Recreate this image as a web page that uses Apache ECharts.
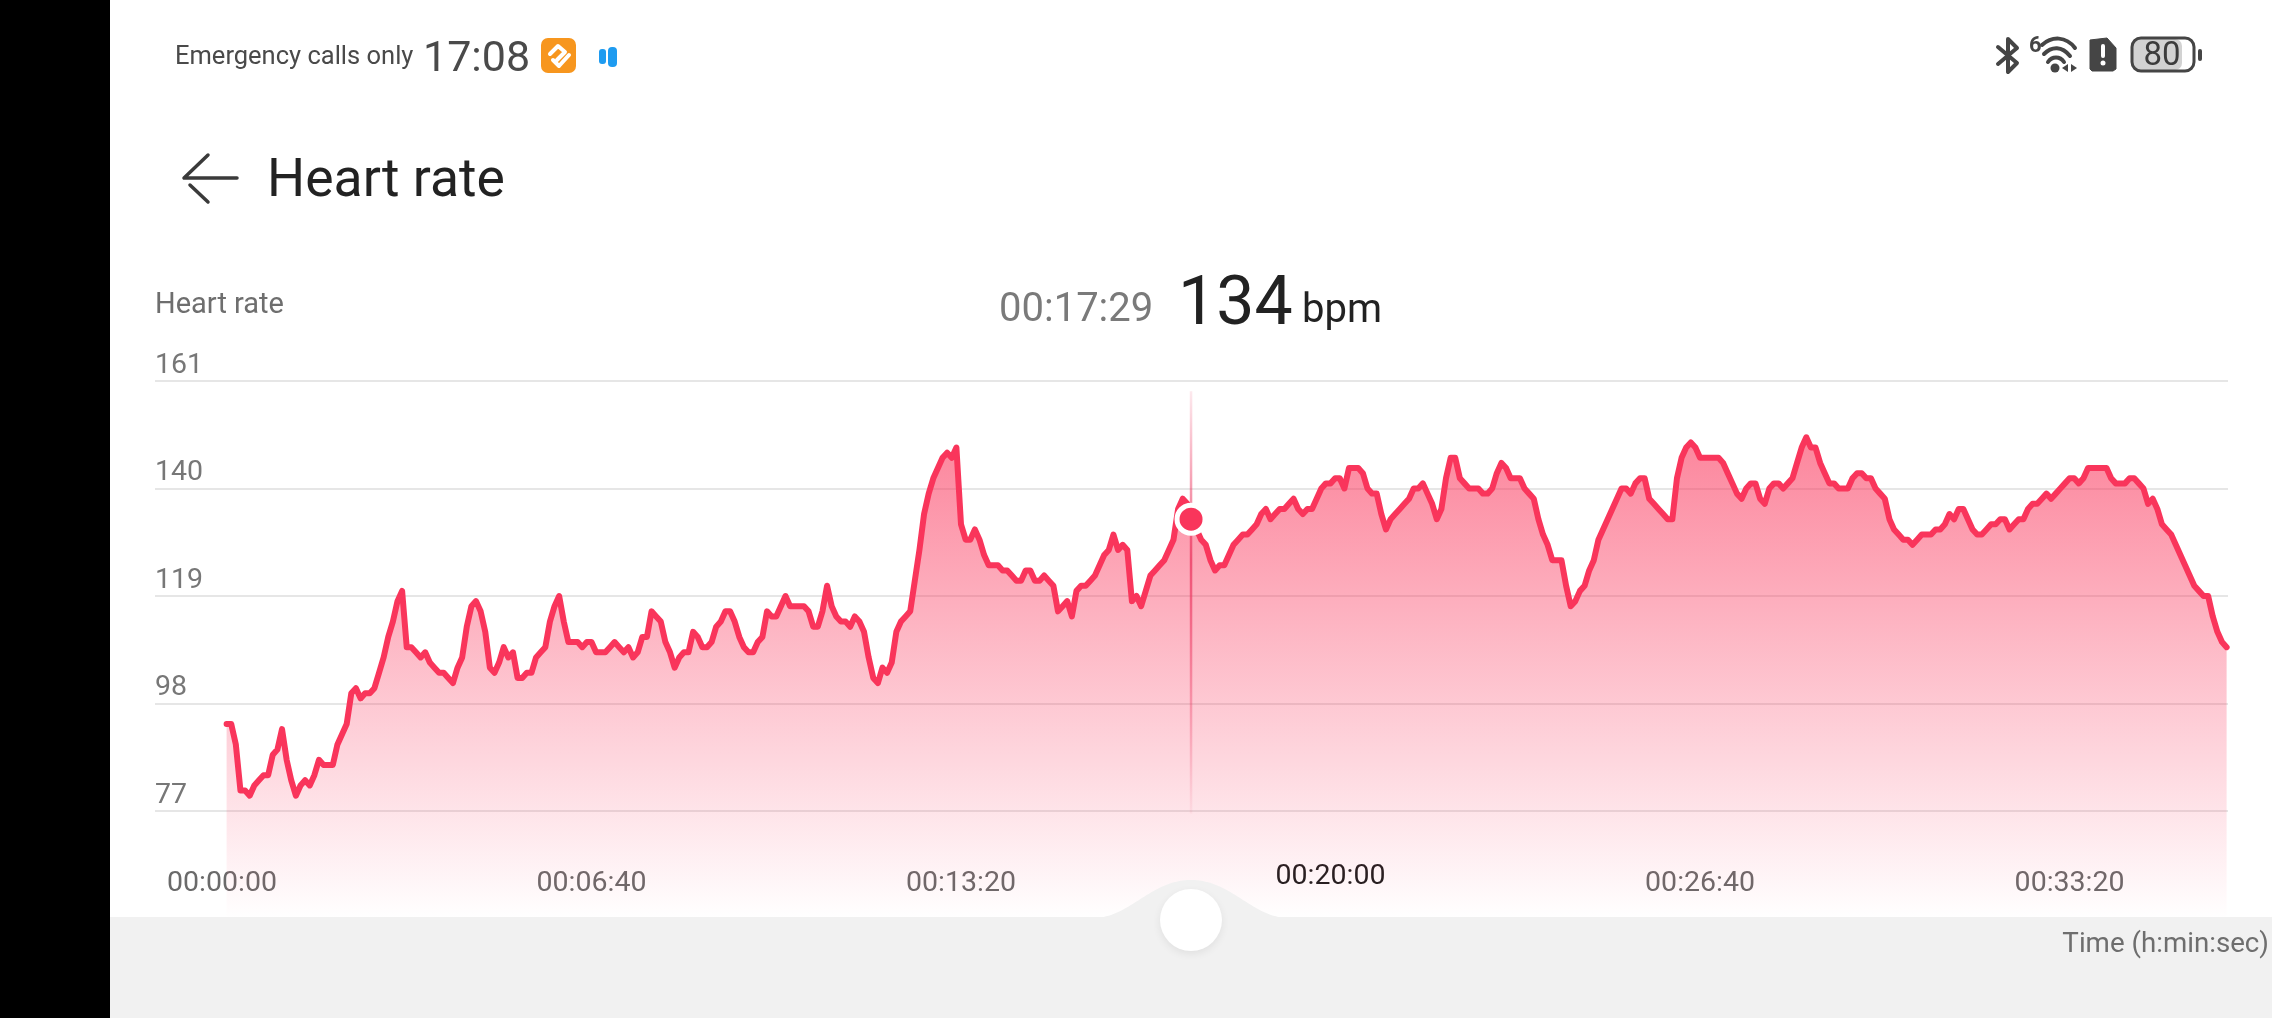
<!DOCTYPE html>
<html>
<head>
<meta charset="utf-8">
<style>html,body{margin:0;padding:0;background:#fff;overflow:hidden}#c{width:2272px;height:1018px}</style>
<script src="https://cdn.jsdelivr.net/npm/echarts@6/dist/echarts.min.js"></script>
</head>
<body>
<div id="c"></div>
<script>
// One sample every 5 seconds, first sample at 00:00:05
const firstSampleSecond = 5;
const sampleStepSeconds = 5;
const heartRateBpm = [
94,94,90,81,81,80,82,83,84,84,
88,89,93,87,83,80,82,83,82,84,
87,86,86,86,90,92,94,100,101,99,
100,100,101,104,107,111,114,118,120,109,
109,108,107,108,106,105,104,104,103,102,
105,107,113,117,118,116,112,105,104,106,
109,107,108,103,103,104,104,107,108,109,
114,117,119,114,110,110,110,109,110,110,
108,108,108,109,110,109,108,109,107,108,
111,111,116,115,114,110,108,105,107,108,
108,112,111,109,109,110,113,114,116,116,
114,111,109,108,108,110,
111,116,115,115,117,119,117,117,117,117,
116,113,113,116,121,117,115,114,114,113,
115,114,112,107,103,102,105,104,106,112,
114,115,116,122,128,135,139,142,144,146,
147,146,148,133,130,130,132,130,127,125,
125,125,124,124,123,122,122,124,124,122,
122,123,122,121,116,117,118,115,120,121,
121,122,123,125,127,128,131,128,129,128,
118,119,117,120,123,124,125,126,128,130,
136,138,137,134,132,130,129,126,124,125,
125,127,129,130,131,131,132,133,135,136,
134,135,136,136,137,138,136,
135,136,136,138,140,141,141,142,142,140,
144,144,144,143,140,139,139,135,132,134,
135,136,137,138,140,140,141,139,137,134,
136,142,146,146,142,141,140,140,140,139,
139,140,143,145,144,142,142,142,140,139,
138,134,131,129,126,126,126,121,117,118,
120,121,124,126,130,132,134,136,138,140,
140,139,141,142,142,138,137,136,135,134,
134,142,146,148,149,148,146,146,146,146,
146,145,143,141,139,138,140,141,141,138,
137,140,141,141,140,141,142,145,148,150,
148,148,145,143,141,141,140,
140,140,142,143,143,142,142,140,139,138,
134,132,131,130,130,129,130,131,131,131,
132,132,133,135,134,136,136,134,132,131,
131,132,133,133,134,134,132,133,134,134,
136,137,137,138,139,138,139,140,141,142,
142,141,142,144,144,144,144,144,142,141,
141,141,142,142,141,140,137,138,136,133,
132,131,129,127,125,123,121,120,119,119,
115,112,110,109
];
const yTicks = [77, 98, 119, 140, 161];
const xTickSeconds = [0, 400, 800, 1200, 1600, 2000];
const xTickLabels = ['00:00:00', '00:06:40', '00:13:20', '00:20:00', '00:26:40', '00:33:20'];
const selectedSecond = 1049;
const selectedBpm = 134;
const crosshairBpmRange = [159, 76.5];

const lineColor = '#f9355b';
const grey = '#6e6e6e';
const ui = 'Roboto, "Noto Sans", sans-serif';
const hr = heartRateBpm.map((v, i) => [firstSampleSecond + i * sampleStepSeconds, v]);

function txt(x, y, text, size, color, extra) {
  return {
    type: 'text', x, y, z: 10, silent: true,
    style: Object.assign({ text, fontSize: size, fontFamily: ui, fill: color, align: 'left', verticalAlign: 'middle' }, extra || {})
  };
}
const stroke = (c, w) => ({ fill: null, stroke: c, lineWidth: w, lineCap: 'round', lineJoin: 'round' });
const ico = '#454545';

// Outline of the slider notch in the bottom panel (decoration, not data)
function notchOutline() {
  const cubic = (a, b, c, d, t) => (1 - t) ** 3 * a + 3 * (1 - t) ** 2 * t * b + 3 * (1 - t) * t * t * c + t ** 3 * d;
  const pts = [];
  for (let i = 0; i <= 40; i++) {
    const t = i / 40;
    pts.push([cubic(1093, 1130, 1150, 1191, t), cubic(918, 918, 880, 880, t)]);
  }
  for (let i = 1; i <= 40; i++) {
    const t = i / 40;
    pts.push([cubic(1191, 1232, 1252, 1289, t), cubic(880, 880, 918, 918, t)]);
  }
  return pts;
}

const graphic = [
  // screen furniture
  { type: 'rect', z: -1, shape: { x: 0, y: 0, width: 110, height: 1018 }, style: { fill: '#000' } },
  { type: 'rect', z: 4, shape: { x: 110, y: 917, width: 2162, height: 8 }, style: { fill: '#f1f1f1' } },
  { type: 'rect', z: -1, shape: { x: 110, y: 917, width: 2162, height: 101 }, style: { fill: '#f1f1f1' } },
  { type: 'polygon', z: 4, shape: { points: notchOutline() }, style: { fill: '#f1f1f1' } },
  { type: 'circle', z: 5, shape: { cx: 1191, cy: 920, r: 31 }, style: { fill: '#fff', shadowBlur: 8, shadowColor: 'rgba(0,0,0,0.07)', shadowOffsetY: 3 } },

  // status bar, left
  txt(175, 58, 'Emergency calls only', 25.5, '#4a4a4a'),
  txt(423, 60, '17:08', 43, '#4a4a4a'),
  { type: 'rect', z: 10, shape: { x: 541, y: 38, width: 35, height: 35, r: 7 }, style: { fill: '#f7961e' } },
  { type: 'polyline', z: 11, shape: { points: [[550, 54], [558, 46], [565, 52], [557, 60]] }, style: stroke('#fff', 4) },
  { type: 'polyline', z: 11, shape: { points: [[553, 60], [559, 66], [569, 55]] }, style: stroke('#fff', 4) },
  { type: 'rect', z: 10, shape: { x: 599, y: 49, width: 7, height: 15, r: 3 }, style: { fill: '#1e9bf0' } },
  { type: 'rect', z: 10, shape: { x: 608, y: 47, width: 9, height: 20, r: 4 }, style: { fill: '#1e9bf0' } },

  // status bar, right
  { type: 'polyline', z: 10, shape: { points: [[1998, 47], [2017, 63], [2008, 72], [2008, 39], [2017, 48], [1998, 64]] }, style: stroke(ico, 4) },
  txt(2029, 46, '6', 22, ico, { fontWeight: 'bold' }),
  { type: 'bezierCurve', z: 10, shape: { x1: 2042, y1: 45, x2: 2075, y2: 48, cpx1: 2052, cpy1: 36, cpx2: 2066, cpy2: 36 }, style: stroke(ico, 4) },
  { type: 'bezierCurve', z: 10, shape: { x1: 2044, y1: 54, x2: 2070, y2: 56, cpx1: 2052, cpy1: 46, cpx2: 2062, cpy2: 46 }, style: stroke(ico, 4) },
  { type: 'bezierCurve', z: 10, shape: { x1: 2048, y1: 62, x2: 2064, y2: 62, cpx1: 2052, cpy1: 56, cpx2: 2060, cpy2: 56 }, style: stroke(ico, 4) },
  { type: 'circle', z: 10, shape: { cx: 2055, cy: 68, r: 4.5 }, style: { fill: ico } },
  { type: 'polygon', z: 10, shape: { points: [[2062, 68], [2068, 64], [2068, 72]] }, style: { fill: ico } },
  { type: 'polygon', z: 10, shape: { points: [[2071, 64], [2077, 68], [2071, 72]] }, style: { fill: ico } },
  { type: 'polygon', z: 10, shape: { points: [[2090, 40], [2107, 38], [2116, 48], [2116, 69], [2113, 71], [2092, 71], [2090, 69]] }, style: { fill: ico, stroke: ico, lineWidth: 1, lineJoin: 'round' } },
  { type: 'rect', z: 11, shape: { x: 2101, y: 44, width: 4, height: 14, r: 2 }, style: { fill: '#fff' } },
  { type: 'circle', z: 11, shape: { cx: 2103, cy: 63, r: 2.5 }, style: { fill: '#fff' } },
  { type: 'rect', z: 10, shape: { x: 2133, y: 39, width: 49, height: 31, r: 7 }, style: { fill: '#d2d2d2' } },
  { type: 'rect', z: 11, shape: { x: 2132, y: 38, width: 62, height: 33, r: 9 }, style: { fill: null, stroke: ico, lineWidth: 3 } },
  { type: 'rect', z: 11, shape: { x: 2198, y: 49, width: 4, height: 12, r: 2 }, style: { fill: ico } },
  txt(2162, 57, '80', 33, '#3c3c3c', { align: 'center' }),

  // header
  { type: 'polyline', z: 10, shape: { points: [[208, 155], [184, 178], [237, 178]] }, style: stroke('#3a3a3a', 3.5) },
  { type: 'polyline', z: 10, shape: { points: [[190, 185], [208, 202]] }, style: stroke('#3a3a3a', 3.5) },
  txt(267, 183, 'Heart rate', 53.5, '#222222'),
  txt(155, 306, 'Heart rate', 29, grey),
  txt(999, 311, '00:17:29', 40, '#7a7a7a', { fontWeight: 400 }),
  txt(1178, 307, '134', 68, '#222222', { fontWeight: 400 }),
  txt(1302, 312, 'bpm', 40, '#222222')
];

const chart = echarts.init(document.getElementById('c'), null, { renderer: 'canvas', width: 2272, height: 1018 });
chart.setOption({
  animation: false,
  backgroundColor: '#ffffff',
  graphic,
  grid: { left: 155, right: 44, top: 381, bottom: 99.5, containLabel: false },
  xAxis: {
    type: 'value', min: -72.5, max: 2171.5,
    axisLine: { show: false }, axisTick: { show: false, customValues: xTickSeconds }, splitLine: { show: false },
    name: 'Time (h:min:sec)', nameLocation: 'end', nameGap: 41,
    nameTextStyle: { color: grey, fontSize: 27.7, fontFamily: ui, align: 'right', verticalAlign: 'top', padding: [13, 0, 0, 0] },
    axisLabel: {
      inside: true, margin: 20, customValues: xTickSeconds, hideOverlap: false,
      showMinLabel: true, showMaxLabel: true,
      fontSize: 28.5, fontFamily: ui, color: '#6a6a6a', verticalAlign: 'bottom',
      formatter: v => {
        const s = xTickLabels[xTickSeconds.indexOf(v)];
        return v === 1200 ? '{on|' + s + '}' : s;
      },
      rich: { on: { fontSize: 28.5, fontFamily: ui, color: '#1e1e1e', padding: [0, 0, 7, 0] } }
    }
  },
  yAxis: {
    type: 'value', min: 56, max: 161,
    axisLine: { show: false }, axisTick: { show: false, customValues: yTicks },
    splitLine: { show: true, lineStyle: { color: '#dedede', width: 1.5 } },
    axisLabel: {
      inside: true, margin: 0, customValues: yTicks, fontSize: 28.5, fontFamily: ui, color: '#777777',
      verticalAlign: 'bottom', padding: [0, 0, 1, 0], showMinLabel: true, showMaxLabel: true
    }
  },
  series: [
    {
      type: 'line', name: 'Heart rate', data: hr, showSymbol: false, symbol: 'none', z: 2, clip: true,
      lineStyle: { color: lineColor, width: 6, join: 'round', cap: 'round' },
      areaStyle: {
        origin: 'start', opacity: 1,
        color: { type: 'linear', x: 0, y: 0, x2: 0, y2: 1, colorStops: [
          { offset: 0, color: 'rgba(250,52,90,0.6)' },
          { offset: 1, color: 'rgba(250,52,90,0)' }
        ] }
      }
    },
    {
      type: 'line', name: 'Selected time', data: crosshairBpmRange.map(v => [selectedSecond, v]), symbol: 'none', z: 3,
      lineStyle: { width: 2.5, color: { type: 'linear', x: 0, y: 0, x2: 0, y2: 1, global: false, colorStops: [
        { offset: 0, color: 'rgba(236,60,100,0.1)' },
        { offset: 0.4, color: 'rgba(236,60,100,0.8)' },
        { offset: 1, color: 'rgba(236,60,100,0.05)' }
      ] } }
    },
    {
      type: 'scatter', name: 'Selected value', data: [[selectedSecond, selectedBpm]], symbolSize: 28, z: 6,
      itemStyle: { color: lineColor, borderColor: '#ffffff', borderWidth: 5, opacity: 1 }
    }
  ]
});
</script>
</body>
</html>
